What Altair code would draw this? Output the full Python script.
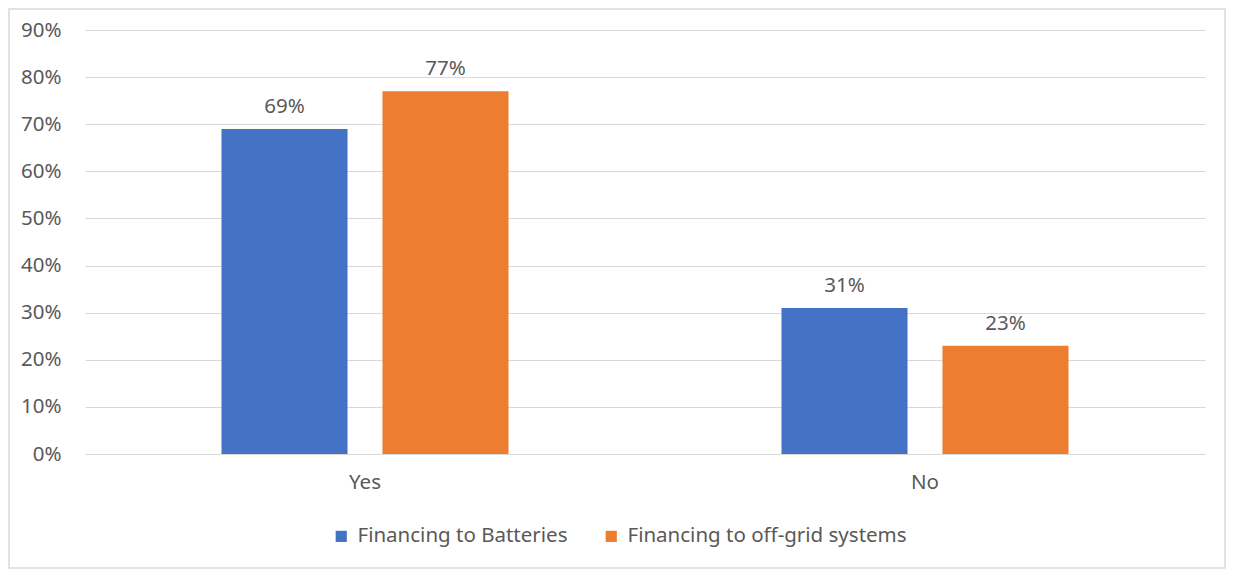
import altair as alt
import pandas as pd

categories = ["Yes", "No"]
series_names = ["Financing to Batteries", "Financing to off-grid systems"]
batteries = [0.69, 0.31]
offgrid = [0.77, 0.23]
y_ticks = [0, 0.1, 0.2, 0.3, 0.4, 0.5, 0.6, 0.7, 0.8, 0.9]
colors = ["#4472C4", "#ED7D31"]

rows = []
for c, b, o in zip(categories, batteries, offgrid):
    rows.append({"cat": c, "series": series_names[0], "value": b})
    rows.append({"cat": c, "series": series_names[1], "value": o})
df = pd.DataFrame(rows)

FONT = "Noto Sans"
TXT = "#595959"
FS = 20.5

x = alt.X("cat:N", sort=categories, title=None,
          scale=alt.Scale(paddingInner=0.4875, paddingOuter=0.24375),
          axis=alt.Axis(labelAngle=0, labelFontSize=FS, labelColor=TXT, labelFont=FONT,
                        domain=True, domainColor="#d9d9d9", domainWidth=1,
                        ticks=False, labelPadding=18, grid=False))
xo = alt.XOffset("series:N", sort=series_names,
                 scale=alt.Scale(paddingInner=0.217, paddingOuter=0))
y = alt.Y("value:Q", title=None,
          scale=alt.Scale(domain=[0, 0.9], nice=False),
          axis=alt.Axis(values=y_ticks, format=".0%", labelFontSize=FS, labelColor=TXT,
                        labelFont=FONT, domain=False, ticks=False, labelPadding=24,
                        grid=True, gridColor="#d9d9d9", gridWidth=1))

color = alt.Color("series:N", sort=series_names,
                  scale=alt.Scale(domain=series_names, range=colors),
                  legend=alt.Legend(title=None, orient="none", direction="horizontal",
                                    legendX=246, legendY=496,
                                    symbolType="square", symbolSize=125,
                                    symbolStrokeWidth=0, labelLimit=0,
                                    labelFontSize=FS, labelColor=TXT, labelFont=FONT,
                                    columnPadding=33, labelOffset=6))

bars = alt.Chart(df).mark_bar().encode(x=x, xOffset=xo, y=y, color=color)

labels = alt.Chart(df).mark_text(baseline="bottom", dy=-12, fontSize=FS,
                                 color=TXT, font=FONT).encode(
    x=alt.X("cat:N", sort=categories),
    xOffset=alt.XOffset("series:N", sort=series_names),
    y="value:Q",
    text=alt.Text("value:Q", format=".0%"),
)

border = alt.Chart(pd.DataFrame({"k": [0]})).mark_rect(
    fill=None, stroke="#d9d9d9", strokeWidth=1.5
).encode(x=alt.value(-76), x2=alt.value(1140), y=alt.value(-21), y2=alt.value(538))

chart = alt.layer(border, bars, labels).properties(
    width=1120, height=424,
    autosize=alt.AutoSizeParams(type="none"),
    padding={"left": 77, "top": 22, "right": 21, "bottom": 115},
).configure_view(stroke=None)

chart.save("out.html", embed_options={"renderer": "svg", "actions": False})
